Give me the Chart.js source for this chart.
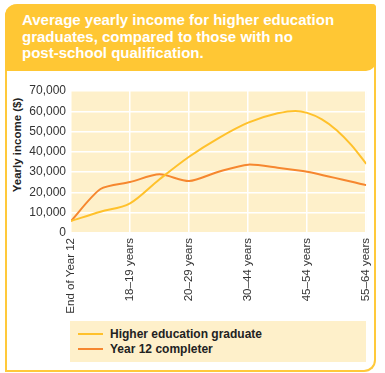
<!DOCTYPE html>
<html>
<head>
    <title>Average yearly income</title>
    <style>
        body {
            margin: 0;
            width: 385px;
            height: 373px;
            background: #fff;
            font-family: "Liberation Sans", Arial, sans-serif;
            position: relative;
            overflow: hidden;
        }

        .frame {
            position: absolute;
            left: 5px;
            top: 4px;
            width: 367px;
            height: 366px;
            border-left: 2px solid #FFC93A;
            border-right: 2px solid #FFC93A;
            border-bottom: 2px solid #FFC93A;
            border-radius: 12px 4px 12px 0;
        }

        .header {
            position: absolute;
            left: 5px;
            top: 4px;
            width: 371px;
            height: 67px;
            background: #FFC734;
            border-radius: 12px 4px 10px 0;
        }

        .header h1 {
            margin: 0;
            padding: 8px 0 0 17px;
            color: #fff;
            font-size: 15px;
            line-height: 16.5px;
            font-weight: bold;
        }

        .ytitle {
            position: absolute;
            left: 17px;
            top: 145px;
            transform: translate(-50%, -50%) rotate(-90deg);
            white-space: nowrap;
            font-size: 11.5px;
            font-weight: bold;
            color: #222;
        }

        #chartWrap {
            position: absolute;
            left: 0;
            top: 72px;
            width: 385px;
            height: 248px;
        }

        .legend {
            position: absolute;
            left: 70px;
            top: 321px;
            width: 296px;
            height: 41px;
            background: #FEF0CA;
        }

        .legend div {
            position: absolute;
            left: 40px;
            font-size: 12px;
            font-weight: bold;
            color: #222;
            line-height: 14px;
        }

        .legend span {
            position: absolute;
            left: -32px;
            top: 6px;
            width: 25px;
            height: 2px;
        }
    </style>
    <script src="https://cdn.jsdelivr.net/npm/chart.js"></script>
</head>
<body>
    <div class="frame"></div>
    <div class="header">
        <h1>Average yearly income for higher education graduates, compared to those with no <span style="white-space: nowrap;">post-school</span> qualification.</h1>
    </div>
    <div class="ytitle">Yearly income ($)</div>
    <div id="chartWrap"><canvas id="incomeChart" width="385" height="248"></canvas></div>
    <div class="legend">
        <div style="top: 6px;"><span style="background: #FFC12B;"></span>Higher education graduate</div>
        <div style="top: 21px;"><span style="background: #F6872F;"></span>Year 12 completer</div>
    </div>

    <script>
        const categories = ['End of Year 12', '18–19 years', '20–29 years', '30–44 years', '45–54 years', '55–64 years'];
        const yTicks = [0, 10000, 20000, 30000, 40000, 50000, 60000, 70000];

        // positions along the age axis (0 = End of Year 12 ... 5 = 55-64 years)
        const gradX = [0, 0.5, 1, 1.5, 2, 2.5, 3, 3.5, 3.8, 4, 4.25, 4.5, 4.75, 5];
        const gradIncome = [5900, 10500, 14600, 26500, 37600, 46800, 54400, 59000, 60200, 59200, 56000, 50700, 43300, 34100];

        const y12X = [0, 0.5, 1, 1.5, 2, 2.5, 3, 3.5, 4, 5];
        const y12Income = [5900, 21700, 25100, 28900, 25600, 30200, 33700, 32200, 30200, 23600];

        function toPoints(xs, ys) {
            return xs.map((x, i) => ({ x: x, y: ys[i] }));
        }

        const plotBg = {
            id: 'plotBg',
            beforeDraw(chart) {
                const a = chart.chartArea;
                const ctx = chart.ctx;
                ctx.save();
                ctx.fillStyle = '#FEF0CA';
                ctx.fillRect(a.left, a.top, a.right - a.left, a.bottom - a.top);
                ctx.restore();
            }
        };

        const ctx = document.getElementById('incomeChart').getContext('2d');
        new Chart(ctx, {
            type: 'line',
            data: {
                datasets: [
                    {
                        label: 'Higher education graduate',
                        data: toPoints(gradX, gradIncome),
                        borderColor: '#FFC12B',
                        borderWidth: 2,
                        pointRadius: 0,
                        cubicInterpolationMode: 'monotone',
                        fill: false
                    },
                    {
                        label: 'Year 12 completer',
                        data: toPoints(y12X, y12Income),
                        borderColor: '#F6872F',
                        borderWidth: 2,
                        pointRadius: 0,
                        tension: 0.25,
                        fill: false
                    }
                ]
            },
            options: {
                responsive: false,
                animation: false,
                layout: { padding: { left: 0, right: 18, top: 19, bottom: 0 } },
                plugins: {
                    legend: { display: false },
                    tooltip: { enabled: false }
                },
                scales: {
                    x: {
                        type: 'linear',
                        min: 0,
                        max: categories.length - 1,
                        afterFit: s => { s.height = 87; },
                        afterBuildTicks: s => { s.ticks = categories.map((c, i) => ({ value: i })); },
                        grid: { color: '#fff', lineWidth: 1.5, drawTicks: false },
                        border: { display: false },
                        ticks: {
                            minRotation: 90,
                            maxRotation: 90,
                            padding: 5,
                            color: '#333',
                            font: { family: 'Liberation Sans', size: 11.5 },
                            callback: v => categories[v]
                        }
                    },
                    y: {
                        min: 0,
                        max: 70000,
                        afterFit: s => { s.width = 71; },
                        afterBuildTicks: s => { s.ticks = yTicks.map(v => ({ value: v })); },
                        grid: { color: '#fff', lineWidth: 1.5, drawTicks: false },
                        border: { display: false },
                        ticks: {
                            padding: 5,
                            color: '#333',
                            font: { family: 'Liberation Sans', size: 12 },
                            callback: v => v.toLocaleString('en-US')
                        }
                    }
                }
            },
            plugins: [plotBg]
        });
    </script>
</body>
</html>
